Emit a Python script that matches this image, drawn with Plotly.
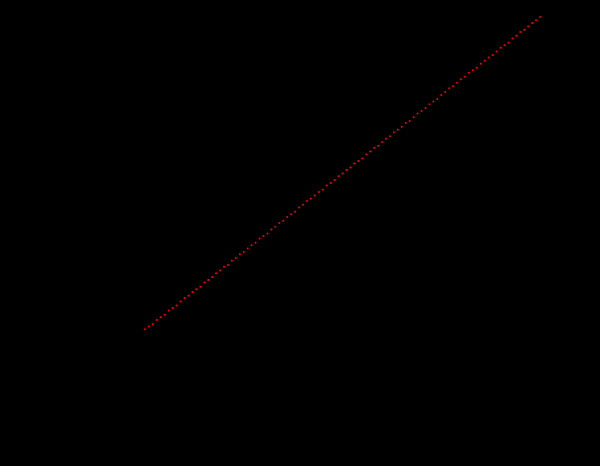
import plotly.graph_objects as go

# sample positions and measured values
x_vals = [
    0.0, 0.8, 1.6, 2.4, 3.2, 4.0, 4.8, 5.6, 6.4, 7.2,
    8.0, 8.8, 9.6, 10.4, 11.2, 12.0, 12.8, 13.6, 14.4, 15.2,
    16.0, 16.8, 17.6, 18.4, 19.2, 20.0, 20.8, 21.6, 22.4, 23.2,
    24.0, 24.8, 25.6, 26.4, 27.2, 28.0, 28.8, 29.6, 30.4, 31.2,
    32.0, 32.8, 33.6, 34.4, 35.2, 36.0, 36.8, 37.6, 38.4, 39.2,
    40.0, 40.8, 41.6, 42.4, 43.2, 44.0, 44.8, 45.6, 46.4, 47.2,
    48.0, 48.8, 49.6, 50.4, 51.2, 52.0, 52.8, 53.6, 54.4, 55.2,
    56.0, 56.8, 57.6, 58.4, 59.2, 60.0, 60.8, 61.6, 62.4, 63.2,
    64.0, 64.8, 65.6, 66.4, 67.2, 68.0, 68.8, 69.6, 70.4, 71.2,
    72.0, 72.8, 73.6, 74.4, 75.2, 76.0, 76.8, 77.6, 78.4, 79.2,
    80.0,
]
y_vals = [
    0.2, 1.1, 1.8, 3.2, 4.1, 4.9, 6.2, 7.0, 7.8, 9.1,
    10.2, 10.9, 12.1, 13.0, 13.8, 15.2, 16.0, 16.9, 18.1, 19.0,
    20.2, 20.8, 22.1, 23.0, 24.2, 24.9, 26.0, 27.1, 27.9, 29.2,
    30.0, 30.8, 32.1, 33.0, 34.2, 34.9, 36.1, 37.0, 37.8, 39.1,
    40.0, 41.2, 41.9, 43.0, 44.1, 44.8, 46.2, 47.0, 47.9, 49.1,
    50.0, 51.1, 51.9, 53.2, 54.0, 54.8, 56.1, 57.0, 58.2, 58.9,
    60.0, 61.1, 61.9, 63.2, 64.0, 64.9, 66.1, 66.8, 68.0, 69.2,
    70.0, 70.9, 72.1, 73.0, 73.8, 75.1, 76.0, 77.2, 77.9, 79.0,
    80.1, 80.9, 82.2, 83.0, 83.8, 85.1, 86.0, 87.1, 87.9, 89.0,
    90.2, 91.0, 91.8, 93.1, 94.0, 95.2, 95.9, 97.0, 98.1, 99.0,
    100.0,
]

fig = go.Figure()

fig.add_trace(
    go.Scatter(
        x=x_vals,
        y=y_vals,
        mode="markers",
        marker=dict(color="red", size=2, line=dict(width=0)),
        showlegend=False,
    )
)

# everything else is black on black
fig.update_layout(
    width=600,
    height=466,
    margin=dict(l=80, r=40, t=10, b=80),
    paper_bgcolor="black",
    plot_bgcolor="black",
    font=dict(color="black"),
    xaxis=dict(range=[-13.16, 84.05], showgrid=False, zeroline=False,
               showticklabels=False, showline=False),
    yaxis=dict(range=[-17.9, 102.24], showgrid=False, zeroline=False,
               showticklabels=False, showline=False),
)

# drop the page's default body margin so the black figure fills the window
fig.write_html(
    "out.html",
    config={"displayModeBar": False},
    post_script="document.body.style.margin='0';document.body.style.background='black';",
)
